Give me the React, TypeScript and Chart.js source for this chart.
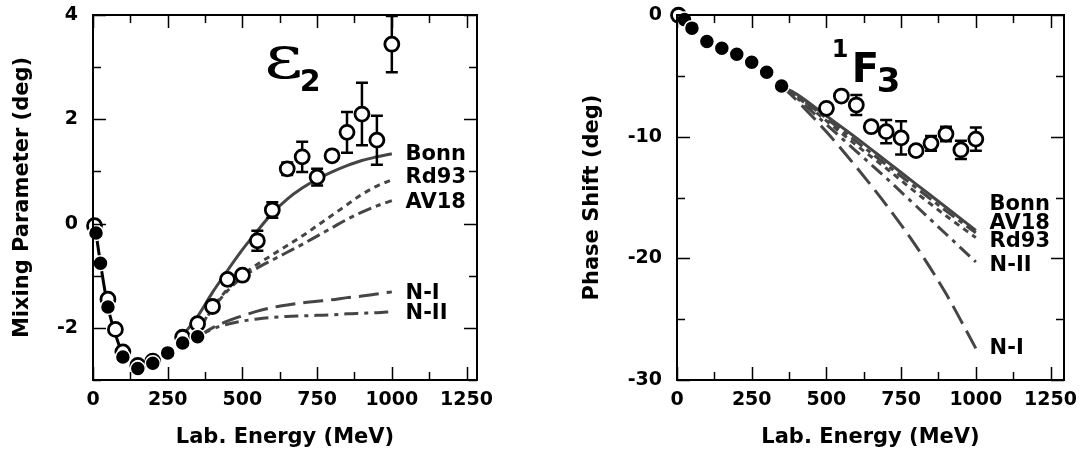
import React, { useEffect, useRef } from "react";
import { Chart, registerables } from "chart.js";
Chart.register(...registerables);

const FONT = "'DejaVu Sans', 'Liberation Sans', sans-serif";
const INK = "#000";
const LINE = "#454545";

// ---------- shared axis ticks ----------
const energyTicks = [0, 250, 500, 750, 1000, 1250];

// ---------- left panel: epsilon_2 ----------
const epsYTicks = [-2, 0, 2, 4];
const epsFilledE = [10, 25, 50, 100, 150, 200, 250, 300, 350];
const epsFilledV = [-0.18, -0.76, -1.6, -2.56, -2.78, -2.68, -2.48, -2.29, -2.17];
const epsOpenE = [5, 50, 75, 100, 150, 200, 300, 350, 400, 450, 500, 550, 600, 650, 700, 750, 800, 850, 900, 950, 1000];
const epsOpenV = [-0.04, -1.45, -2.03, -2.46, -2.72, -2.64, -2.18, -1.92, -1.59, -1.07, -0.99, -0.33, 0.26, 1.05, 1.28, 0.89, 1.3, 1.75, 2.1, 1.6, 3.44];
const epsOpenErr = [0, 0, 0, 0, 0, 0, 0, 0, 0, 0, 0, 0.19, 0.15, 0.12, 0.29, 0.16, 0.08, 0.39, 0.6, 0.47, 0.54];
const epsBonnE = [300, 350, 400, 450, 500, 550, 600, 650, 700, 750, 800, 850, 900, 950, 1000];
const epsBonnV = [-2.15, -1.78, -1.32, -0.9, -0.5, -0.14, 0.2, 0.47, 0.68, 0.85, 0.99, 1.11, 1.21, 1.28, 1.34];
const epsModelE = [350, 400, 450, 500, 550, 600, 650, 700, 750, 800, 850, 900, 950, 1000];
const epsRd93V = [-2.07, -1.62, -1.26, -0.99, -0.78, -0.6, -0.42, -0.24, -0.04, 0.16, 0.36, 0.56, 0.72, 0.84];
const epsAV18V = [-2.07, -1.64, -1.29, -1.03, -0.85, -0.7, -0.55, -0.4, -0.24, -0.08, 0.08, 0.22, 0.34, 0.44];
const epsNIV = [-2.17, -2.0, -1.87, -1.77, -1.68, -1.61, -1.56, -1.52, -1.49, -1.46, -1.42, -1.39, -1.35, -1.31];
const epsNIIV = [-2.17, -2.02, -1.93, -1.87, -1.83, -1.8, -1.78, -1.77, -1.76, -1.75, -1.73, -1.72, -1.71, -1.69];

// ---------- right panel: 1F3 ----------
const f3YTicks = [-30, -20, -10, 0];
const f3FilledE = [25, 50, 100, 150, 200, 250, 300, 350];
const f3FilledV = [-0.38, -1.08, -2.17, -2.74, -3.22, -3.88, -4.7, -5.83];
const f3OpenE = [5, 500, 550, 600, 650, 700, 750, 800, 850, 900, 950, 1000];
const f3OpenV = [-0.02, -7.67, -6.66, -7.4, -9.18, -9.59, -10.1, -11.15, -10.55, -9.78, -11.09, -10.2];
const f3OpenErr = [0, 0, 0, 0.82, 0.2, 0.96, 1.37, 0, 0.6, 0.6, 0.75, 0.95];
const f3ModelE = [350, 400, 500, 600, 700, 800, 900, 1000];
const f3BonnV = [-5.83, -6.5, -8.3, -10.1, -12.0, -13.9, -15.8, -17.7];
const f3AV18V = [-5.83, -6.6, -8.5, -10.4, -12.3, -14.2, -16.1, -17.9];
const f3Rd93V = [-5.83, -6.7, -8.7, -10.7, -12.6, -14.6, -16.5, -18.3];
const f3NIIV = [-5.83, -6.8, -9.0, -11.2, -13.4, -15.7, -18.0, -20.3];
const f3NIV = [-5.83, -7.0, -9.6, -12.5, -15.6, -19.0, -22.9, -27.4];

const pts = (xs: number[], ys: number[]) => xs.map((x, i) => ({ x, y: ys[i] }));

// ---------- plugins ----------
const errorBarPlugin = {
  id: "errbars",
  beforeDatasetDraw(chart: any, args: any) {
    const ds = chart.data.datasets[args.index];
    if (!ds.errors) return;
    const { ctx, scales } = chart;
    const xs = scales.x, ys = scales.y;
    ctx.save();
    ctx.strokeStyle = INK;
    ctx.lineWidth = 2.5;
    ctx.beginPath();
    ds.data.forEach((p: any, i: number) => {
      const e = ds.errors[i];
      if (!e) return;
      const px = xs.getPixelForValue(p.x);
      const top = ys.getPixelForValue(p.y + e);
      const bot = ys.getPixelForValue(p.y - e);
      ctx.moveTo(px, top); ctx.lineTo(px, bot);
      ctx.moveTo(px - 6, top); ctx.lineTo(px + 6, top);
      ctx.moveTo(px - 6, bot); ctx.lineTo(px + 6, bot);
    });
    ctx.stroke();
    ctx.restore();
  },
};

const framePlugin = {
  id: "frame",
  afterDatasetsDraw(chart: any, _a: any, o: any) {
    const { ctx, chartArea: a, scales } = chart;
    const xs = scales.x, ys = scales.y;
    ctx.save();
    ctx.strokeStyle = INK;
    ctx.lineWidth = 1.5;
    ctx.beginPath();
    const isMajor = (v: number, m: number) => Math.abs(v / m - Math.round(v / m)) < 1e-6;
    for (let v = o.xFrom; v <= o.xTo + 1e-9; v += o.xStep) {
      const px = Math.round(xs.getPixelForValue(v)) + 0.5;
      const len = isMajor(v, o.xMajor) ? 13 : 8;
      ctx.moveTo(px, a.bottom); ctx.lineTo(px, a.bottom - len);
      ctx.moveTo(px, a.top); ctx.lineTo(px, a.top + len);
    }
    for (let v = o.yFrom; v <= o.yTo + 1e-9; v += o.yStep) {
      const py = Math.round(ys.getPixelForValue(v)) + 0.5;
      const len = isMajor(v, o.yMajor) ? 13 : 8;
      ctx.moveTo(a.left, py); ctx.lineTo(a.left + len, py);
      ctx.moveTo(a.right, py); ctx.lineTo(a.right - len, py);
    }
    ctx.stroke();
    ctx.lineWidth = 2;
    ctx.strokeRect(a.left, a.top, a.right - a.left, a.bottom - a.top);
    ctx.restore();
  },
};

const textPlugin = {
  id: "texts",
  afterDraw(chart: any, _a: any, o: any) {
    const { ctx, scales } = chart;
    ctx.save();
    ctx.fillStyle = INK;
    (o.items || []).forEach((t: any) => {
      ctx.save();
      ctx.font = t.font;
      ctx.textAlign = t.align || "left";
      ctx.textBaseline = t.baseline || "alphabetic";
      const px = scales.x.getPixelForValue(t.x);
      const py = scales.y.getPixelForValue(t.y);
      ctx.translate(px, py);
      if (t.sx) ctx.scale(t.sx, 1);
      ctx.fillText(t.text, 0, 0);
      ctx.restore();
    });
    ctx.restore();
  },
};

const tickFont = { family: FONT, size: 19, weight: "bold" as const };
const titleFont = { family: FONT, size: 21, weight: "bold" as const };
const labelFont = `bold 21px ${FONT}`;

function modelLine(label: string, data: any[], dash: number[]) {
  return {
    type: "line" as const,
    label,
    data,
    borderColor: LINE,
    borderWidth: 3,
    borderDash: dash,
    pointRadius: 0,
    fill: false,
    cubicInterpolationMode: "monotone" as const,
    order: 3,
  };
}

function filledSet(data: any[]) {
  return {
    type: "scatter" as const,
    data,
    pointRadius: 7.5,
    pointBackgroundColor: "#000",
    pointBorderColor: "#fff",
    pointBorderWidth: 1.5,
    showLine: false,
    clip: false as any,
    order: 0,
  };
}

function openSet(data: any[], errors: number[]) {
  return {
    type: "scatter" as const,
    data,
    errors,
    pointRadius: 7,
    pointBackgroundColor: "#fff",
    pointBorderColor: "#000",
    pointBorderWidth: 2.8,
    showLine: false,
    clip: false as any,
    order: 1,
  };
}

function baseOptions(p: {
  xMax: number; yMin: number; yMax: number; yTicks: number[]; yTitle: string;
  yTitlePad: number; yAxisWidth: number; padRight: number; yPad: number;
  frame: any; texts: any[];
}) {
  return {
    responsive: false,
    devicePixelRatio: 1,
    animation: false as const,
    layout: { padding: { left: 0, top: 15, right: p.padRight, bottom: 0 } },
    plugins: {
      legend: { display: false },
      tooltip: { enabled: false },
      frame: p.frame,
      texts: { items: p.texts },
    },
    scales: {
      x: {
        type: "linear" as const,
        min: 0,
        max: p.xMax,
        afterBuildTicks: (s: any) => { s.ticks = energyTicks.map((v) => ({ value: v })); },
        afterFit: (s: any) => { s.height = 73; s.paddingLeft = 0; s.paddingRight = 0; s.paddingTop = 0; s.paddingBottom = 0; },
        ticks: { font: tickFont, color: INK, padding: 9, maxRotation: 0, autoSkip: false, callback: (v: any) => String(v) },
        grid: { display: false, drawTicks: false },
        border: { display: false },
        title: { display: true, text: "Lab. Energy (MeV)", font: titleFont, color: INK, padding: { top: 0, bottom: 3 } },
      },
      y: {
        type: "linear" as const,
        min: p.yMin,
        max: p.yMax,
        afterBuildTicks: (s: any) => { s.ticks = p.yTicks.map((v) => ({ value: v })); },
        afterFit: (s: any) => { s.width = p.yAxisWidth; s.paddingLeft = 0; s.paddingRight = 0; s.paddingTop = 0; s.paddingBottom = 0; },
        ticks: { font: tickFont, color: INK, padding: p.yPad, callback: (v: any) => String(v) },
        grid: { display: false, drawTicks: false },
        border: { display: false },
        title: { display: true, text: p.yTitle, font: titleFont, color: INK, padding: { top: p.yTitlePad, bottom: 0 } },
      },
    },
  };
}

function leftConfig(): any {
  return {
    data: {
      datasets: [
        filledSet(pts(epsFilledE, epsFilledV)),
        openSet(pts(epsOpenE, epsOpenV), epsOpenErr),
        {
          type: "line",
          data: pts(epsFilledE.slice(0, 4), epsFilledV.slice(0, 4)),
          borderColor: "#000",
          borderWidth: 3,
          pointRadius: 0,
          cubicInterpolationMode: "monotone",
          order: 2,
        },
        modelLine("Bonn", pts(epsBonnE, epsBonnV), []),
        modelLine("Rd93", pts(epsModelE, epsRd93V), [6, 5]),
        modelLine("AV18", pts(epsModelE, epsAV18V), [14, 5, 5, 5]),
        modelLine("N-I", pts(epsModelE, epsNIV), [20, 8]),
        modelLine("N-II", pts(epsModelE, epsNIIV), [14, 6, 4, 6]),
      ],
    },
    options: baseOptions({
      xMax: 1285, yMin: -3, yMax: 4, yTicks: epsYTicks, yTitle: "Mixing Parameter (deg)",
      yTitlePad: 10, yAxisWidth: 93, padRight: 63, yPad: 15,
      frame: { xFrom: 0, xTo: 1250, xStep: 125, xMajor: 250, yFrom: -3, yTo: 4, yStep: 1, yMajor: 2 },
      texts: [
        { text: "ε", x: 573, y: 2.79, font: `60px 'DejaVu Serif', serif`, sx: 1.25 },
        { text: "2", x: 692, y: 2.54, font: `bold 30px ${FONT}` },
        { text: "Bonn", x: 1046, y: 1.32, font: labelFont, baseline: "middle" },
        { text: "Rd93", x: 1046, y: 0.88, font: labelFont, baseline: "middle" },
        { text: "AV18", x: 1046, y: 0.4, font: labelFont, baseline: "middle" },
        { text: "N-I", x: 1046, y: -1.34, font: labelFont, baseline: "middle" },
        { text: "N-II", x: 1046, y: -1.72, font: labelFont, baseline: "middle" },
      ],
    }),
    plugins: [errorBarPlugin, framePlugin, textPlugin],
  };
}

function rightConfig(): any {
  return {
    data: {
      datasets: [
        filledSet(pts(f3FilledE, f3FilledV)),
        openSet(pts(f3OpenE, f3OpenV), f3OpenErr),
        modelLine("Bonn", pts(f3ModelE, f3BonnV), []),
        modelLine("AV18", pts(f3ModelE, f3AV18V), [14, 5, 5, 5]),
        modelLine("Rd93", pts(f3ModelE, f3Rd93V), [6, 5]),
        modelLine("N-II", pts(f3ModelE, f3NIIV), [14, 6, 4, 6]),
        modelLine("N-I", pts(f3ModelE, f3NIV), [20, 8]),
      ],
    },
    options: baseOptions({
      xMax: 1295, yMin: -30, yMax: 0, yTicks: f3YTicks, yTitle: "Phase Shift (deg)",
      yTitlePad: 40, yAxisWidth: 137, padRight: 19, yPad: 15,
      frame: { xFrom: 0, xTo: 1250, xStep: 125, xMajor: 250, yFrom: -30, yTo: 0, yStep: 5, yMajor: 10 },
      texts: [
        { text: "1", x: 518, y: -3.45, font: `bold 24px ${FONT}` },
        { text: "F", x: 585, y: -5.5, font: `bold 40px ${FONT}` },
        { text: "3", x: 668, y: -6.33, font: `bold 34px ${FONT}` },
        { text: "Bonn", x: 1046, y: -15.6, font: labelFont, baseline: "middle" },
        { text: "AV18", x: 1046, y: -17.1, font: labelFont, baseline: "middle" },
        { text: "Rd93", x: 1046, y: -18.6, font: labelFont, baseline: "middle" },
        { text: "N-II", x: 1046, y: -20.6, font: labelFont, baseline: "middle" },
        { text: "N-I", x: 1046, y: -27.4, font: labelFont, baseline: "middle" },
      ],
    }),
    plugins: [errorBarPlugin, framePlugin, textPlugin],
  };
}

export default function App() {
  const leftRef = useRef<HTMLCanvasElement>(null);
  const rightRef = useRef<HTMLCanvasElement>(null);
  useEffect(() => {
    const c1 = new Chart(leftRef.current as HTMLCanvasElement, leftConfig());
    const c2 = new Chart(rightRef.current as HTMLCanvasElement, rightConfig());
    return () => {
      c1.destroy();
      c2.destroy();
    };
  }, []);
  return (
    <div style={{ position: "fixed", left: 0, top: 0, width: 1083, height: 453, background: "#fff" }}>
      <canvas ref={leftRef} width={540} height={453} style={{ position: "absolute", left: 0, top: 0, width: 540, height: 453 }} />
      <canvas ref={rightRef} width={543} height={453} style={{ position: "absolute", left: 540, top: 0, width: 543, height: 453 }} />
    </div>
  );
}
